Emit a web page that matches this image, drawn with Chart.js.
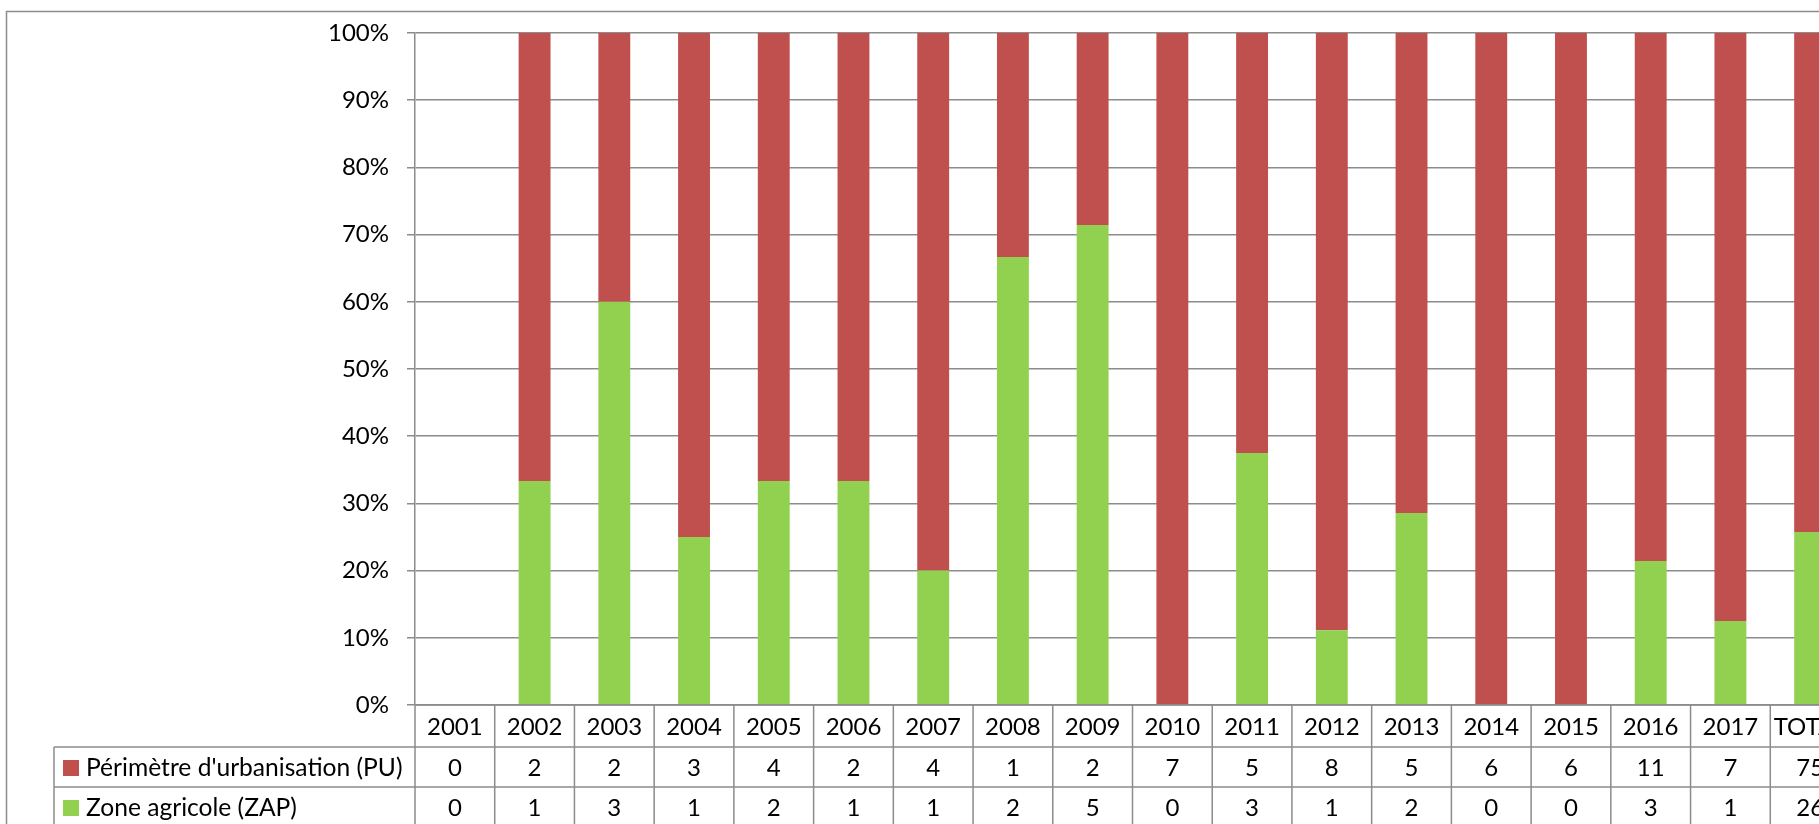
<!DOCTYPE html>
<html>
<head>
<meta charset="utf-8">
<script src="https://cdn.jsdelivr.net/npm/chart.js@4/dist/chart.umd.min.js"></script>
<style>
  html, body { margin: 0; padding: 0; overflow: hidden; background: #ffffff; }
  canvas { display: block; }
</style>
</head>
<body>
<canvas id="c" width="1880" height="824"></canvas>
<script>
// ---- data ----
const categories = ['2001','2002','2003','2004','2005','2006','2007','2008','2009','2010','2011','2012','2013','2014','2015','2016','2017','TOTAL'];
const puLabel = "Périmètre d'urbanisation (PU)";
const zapLabel = 'Zone agricole (ZAP)';
const puCounts  = [0,2,2,3,4,2,4,1,2,7,5,8,5,6,6,11,7,75];
const zapCounts = [0,1,3,1,2,1,1,2,5,0,3,1,2,0,0,3,1,26];
const yTicks = [0,10,20,30,40,50,60,70,80,90,100];

const RED = '#C0504D';
const GREEN = '#92D050';
const GRID = '#8c8c8c';
const FONT = 'Lato, "Open Sans", sans-serif';
const FONT_SIZE = 24;
const LEGEND_FONT_SIZE = 24.6;

function share(a, b) {
  return a.map((v, i) => {
    const t = v + b[i];
    return t === 0 ? 0 : v / t * 100;
  });
}
const zapPct = share(zapCounts, puCounts);
const puPct = share(puCounts, zapCounts);

const ROW_H = 41;

const framePlugin = {
  id: 'frame',
  beforeDraw(chart) {
    const ctx = chart.ctx;
    ctx.save();
    ctx.fillStyle = '#ffffff';
    ctx.fillRect(0, 0, chart.width, chart.height);
    ctx.strokeStyle = GRID;
    ctx.lineWidth = 1.5;
    ctx.beginPath();
    ctx.moveTo(6.5, chart.height + 10);
    ctx.lineTo(6.5, 11.5);
    ctx.lineTo(chart.width + 10, 11.5);
    ctx.stroke();
    ctx.restore();
  }
};

const tablePlugin = {
  id: 'dataTable',
  afterDraw(chart) {
    const ctx = chart.ctx;
    const xs = chart.scales.x;
    const area = chart.chartArea;
    const n = categories.length;
    const catW = (area.right - area.left) / n;
    const top = area.bottom;
    const r1 = top + ROW_H + 1;
    const r2 = r1 + ROW_H - 1;
    const r3 = r2 + ROW_H - 1;
    const legLeft = 54;

    ctx.save();
    ctx.strokeStyle = GRID;
    ctx.lineWidth = 1.5;
    ctx.beginPath();
    // horizontal lines
    ctx.moveTo(area.left, top); ctx.lineTo(chart.width, top);
    ctx.moveTo(legLeft, r1); ctx.lineTo(chart.width, r1);
    ctx.moveTo(legLeft, r2); ctx.lineTo(chart.width, r2);
    ctx.moveTo(legLeft, r3); ctx.lineTo(chart.width, r3);
    // vertical lines
    ctx.moveTo(legLeft, r1); ctx.lineTo(legLeft, chart.height + 5);
    for (let i = 0; i <= n; i++) {
      const xx = area.left + i * catW;
      ctx.moveTo(xx, top); ctx.lineTo(xx, chart.height + 5);
    }
    ctx.stroke();

    ctx.fillStyle = '#000000';
    ctx.font = FONT_SIZE + 'px ' + FONT;
    ctx.textAlign = 'center';
    ctx.textBaseline = 'middle';
    for (let i = 0; i < n; i++) {
      const cx = xs.getPixelForValue(i);
      ctx.fillText(categories[i], cx, (top + r1) / 2 + 1);
      ctx.fillText(String(puCounts[i]), cx, (r1 + r2) / 2 + 1);
      ctx.fillText(String(zapCounts[i]), cx, (r2 + r3) / 2 + 1);
    }

    // legend keys
    const sq = 16;
    const rowsInfo = [
      { y: (r1 + r2) / 2, color: RED, label: puLabel },
      { y: (r2 + r3) / 2, color: GREEN, label: zapLabel }
    ];
    ctx.textAlign = 'left';
    ctx.font = LEGEND_FONT_SIZE + 'px ' + FONT;
    rowsInfo.forEach(r => {
      ctx.fillStyle = r.color;
      ctx.fillRect(legLeft + 9, r.y - sq / 2 + 1, sq, sq);
      ctx.fillStyle = '#000000';
      ctx.fillText(r.label, legLeft + 32, r.y + 1);
    });
    ctx.restore();
  }
};

new Chart(document.getElementById('c'), {
  type: 'bar',
  data: {
    labels: categories,
    datasets: [
      { label: zapLabel, data: zapPct, backgroundColor: GREEN, barPercentage: 0.4, categoryPercentage: 1.0 },
      { label: puLabel, data: puPct, backgroundColor: RED, barPercentage: 0.4, categoryPercentage: 1.0 }
    ]
  },
  options: {
    responsive: false,
    animation: false,
    devicePixelRatio: 1,
    layout: { padding: { left: 0, top: 33, right: 30, bottom: 119 } },
    plugins: { legend: { display: false }, tooltip: { enabled: false } },
    scales: {
      x: {
        stacked: true,
        display: false,
        offset: true
      },
      y: {
        stacked: true,
        min: 0,
        max: 100,
        afterBuildTicks: s => { s.ticks = yTicks.map(v => ({ value: v })); },
        afterFit: s => { s.width = 415; },
        border: { display: true, color: GRID, width: 1.5 },
        grid: { color: GRID, lineWidth: 1.5, tickLength: 8, drawTicks: true },
        ticks: {
          color: '#000000',
          padding: 18,
          font: { family: FONT, size: FONT_SIZE },
          callback: v => v + '%'
        }
      }
    }
  },
  plugins: [framePlugin, tablePlugin]
});
</script>
</body>
</html>
